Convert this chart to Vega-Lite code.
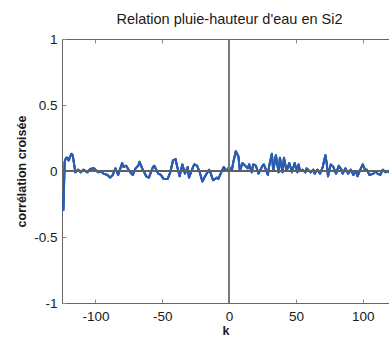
{
  "$schema": "https://vega.github.io/schema/vega-lite/v6.json",
  "width": 327,
  "height": 264,
  "autosize": {"type": "none"},
  "padding": {"left": 62, "top": 39, "right": 0, "bottom": 34},
  "background": "white",
  "config": {
    "view": {"stroke": null},
    "font": "Liberation Sans",
    "axis": {
      "grid": false,
      "domainColor": "#666666",
      "labelFont": "Liberation Sans",
      "labelFontSize": 13.5,
      "labelColor": "#1a1a1a",
      "titleFont": "Liberation Sans",
      "titleFontSize": 12.5,
      "titleFontWeight": "bold",
      "titleColor": "#1a1a1a"
    }
  },
  "title": {
    "text": "Relation pluie-hauteur d'eau en Si2",
    "font": "Liberation Sans",
    "fontSize": 14.5,
    "fontWeight": "normal",
    "color": "#1a1a1a",
    "offset": 5,
    "dx": 4
  },
  "data": {
    "values": [
      {"k": -124, "c": -0.3}, {"k": -123, "c": 0.07}, {"k": -122, "c": 0.1}, {"k": -121, "c": 0.1},
      {"k": -120, "c": 0.08}, {"k": -118, "c": 0.13}, {"k": -117, "c": 0.12}, {"k": -115, "c": -0.01},
      {"k": -113, "c": 0.01}, {"k": -111, "c": -0.01}, {"k": -109, "c": 0.01}, {"k": -106, "c": -0.01},
      {"k": -104, "c": 0.015}, {"k": -101, "c": 0.02}, {"k": -98, "c": -0.01}, {"k": -96, "c": 0},
      {"k": -94, "c": -0.02}, {"k": -91, "c": -0.03}, {"k": -89, "c": -0.05}, {"k": -87, "c": -0.03},
      {"k": -85, "c": 0.02}, {"k": -83, "c": -0.03}, {"k": -80, "c": 0.06}, {"k": -79, "c": 0.03},
      {"k": -77, "c": 0.04}, {"k": -74, "c": -0.01}, {"k": -72, "c": -0.03}, {"k": -70, "c": 0.02},
      {"k": -68, "c": 0.04}, {"k": -67, "c": 0.07}, {"k": -65, "c": 0.02}, {"k": -62, "c": -0.04},
      {"k": -60, "c": -0.05}, {"k": -57, "c": 0.03}, {"k": -56, "c": 0.04}, {"k": -53, "c": -0.02},
      {"k": -51, "c": -0.03}, {"k": -49, "c": -0.06}, {"k": -46, "c": -0.06}, {"k": -44, "c": -0.01},
      {"k": -42, "c": 0.08}, {"k": -40, "c": 0.09}, {"k": -39, "c": 0.04}, {"k": -37, "c": -0.04},
      {"k": -35, "c": 0.05}, {"k": -33, "c": -0.02}, {"k": -31, "c": 0.03}, {"k": -30, "c": -0.05},
      {"k": -27, "c": 0.03}, {"k": -26, "c": 0.05}, {"k": -24, "c": 0.04}, {"k": -22, "c": -0.01},
      {"k": -20, "c": -0.08}, {"k": -18, "c": -0.04}, {"k": -15, "c": 0.01}, {"k": -14, "c": -0.01},
      {"k": -12, "c": -0.07}, {"k": -9, "c": -0.05}, {"k": -8, "c": -0.06}, {"k": -5, "c": 0.01},
      {"k": -4, "c": 0.03}, {"k": -2, "c": 0}, {"k": 0, "c": 0.03}, {"k": 2, "c": 0},
      {"k": 3, "c": 0.06}, {"k": 5, "c": 0.15}, {"k": 7, "c": 0.11}, {"k": 8, "c": 0},
      {"k": 10, "c": 0.06}, {"k": 11, "c": 0.05}, {"k": 14, "c": 0.02}, {"k": 15, "c": 0.05},
      {"k": 17, "c": -0.01}, {"k": 18, "c": 0.05}, {"k": 20, "c": 0.04}, {"k": 22, "c": -0.02},
      {"k": 25, "c": 0.04}, {"k": 26, "c": 0.05}, {"k": 29, "c": -0.03}, {"k": 30, "c": 0.04},
      {"k": 32, "c": 0.13}, {"k": 33, "c": 0}, {"k": 35, "c": 0.12}, {"k": 37, "c": -0.01},
      {"k": 38, "c": 0.1}, {"k": 40, "c": -0.01}, {"k": 41, "c": 0.1}, {"k": 43, "c": 0},
      {"k": 45, "c": 0.06}, {"k": 47, "c": -0.01}, {"k": 49, "c": 0.06}, {"k": 51, "c": -0.01},
      {"k": 52, "c": 0.05}, {"k": 53, "c": 0}, {"k": 55, "c": 0.01}, {"k": 57, "c": -0.01},
      {"k": 58, "c": 0.02}, {"k": 61, "c": -0.01}, {"k": 63, "c": 0.01}, {"k": 64, "c": -0.02},
      {"k": 66, "c": 0.01}, {"k": 68, "c": -0.02}, {"k": 70, "c": 0.03}, {"k": 72, "c": 0.12},
      {"k": 73, "c": 0.06}, {"k": 74, "c": -0.04}, {"k": 76, "c": 0.05}, {"k": 78, "c": 0.03},
      {"k": 80, "c": -0.02}, {"k": 82, "c": 0.04}, {"k": 84, "c": 0.01}, {"k": 85, "c": -0.02},
      {"k": 87, "c": 0.02}, {"k": 89, "c": -0.02}, {"k": 91, "c": 0.01}, {"k": 93, "c": -0.03},
      {"k": 95, "c": 0}, {"k": 96, "c": -0.04}, {"k": 99, "c": 0.03}, {"k": 100, "c": 0.05},
      {"k": 102, "c": 0}, {"k": 103, "c": 0.01}, {"k": 105, "c": -0.03}, {"k": 108, "c": -0.02},
      {"k": 109, "c": 0}, {"k": 111, "c": -0.02}, {"k": 113, "c": -0.03}, {"k": 115, "c": 0.01},
      {"k": 117, "c": -0.01}, {"k": 118, "c": 0}, {"k": 120, "c": -0.01}, {"k": 122, "c": 0.01},
      {"k": 124, "c": 0}
    ]
  },
  "layer": [
    {
      "mark": {"type": "line", "color": "#2a5db0", "strokeWidth": 2, "clip": true, "strokeJoin": "round"},
      "encoding": {
        "x": {
          "field": "k", "type": "quantitative",
          "axis": {"orient": "top", "offset": -264, "labels": true, "labelOpacity": 0, "domain": false, "ticks": true, "tickSize": 4, "tickColor": "#8a8a8a", "tickWidth": 1, "title": null, "values": [-100, -50, 0, 50, 100]}
        },
        "y": {
          "field": "c", "type": "quantitative",
          "axis": {"orient": "right", "offset": -327, "labels": true, "labelOpacity": 0, "domain": false, "ticks": true, "tickSize": 4, "tickColor": "#8a8a8a", "tickWidth": 1, "title": null, "values": [-1, -0.5, 0, 0.5, 1]}
        }
      }
    },
    {
      "mark": {"type": "line", "color": "#2a5db0", "strokeWidth": 2, "clip": true, "strokeJoin": "round"},
      "encoding": {
        "x": {
          "field": "k",
          "type": "quantitative",
          "scale": {"domain": [-125, 119.6], "nice": false, "zero": false},
          "axis": {"orient": "bottom", "title": "k", "values": [-100, -50, 0, 50, 100], "ticks": false, "labelPadding": 6, "titlePadding": 2, "labelExpr": "toString(datum.value)"}
        },
        "y": {
          "field": "c",
          "type": "quantitative",
          "scale": {"domain": [-1, 1], "nice": false},
          "axis": {"orient": "left", "title": "corrélation croisée", "values": [-1, -0.5, 0, 0.5, 1], "ticks": false, "labelPadding": 5, "titlePadding": 5, "labelExpr": "toString(datum.value)"}
        }
      }
    },
    {
      "mark": {"type": "line", "color": "#2a5db0", "strokeWidth": 2, "clip": true, "strokeJoin": "round"},
      "encoding": {
        "x": {
          "field": "k", "type": "quantitative",
          "axis": {"orient": "bottom", "offset": -264, "labels": true, "labelOpacity": 0, "domain": true, "ticks": true, "tickSize": 4, "tickColor": "#8a8a8a", "tickWidth": 1, "title": null, "values": [-100, -50, 0, 50, 100]}
        },
        "y": {"field": "c", "type": "quantitative", "axis": null}
      }
    },
    {
      "mark": {"type": "rule", "color": "#7a7a7a", "strokeWidth": 1},
      "encoding": {
        "x": {"datum": 0, "type": "quantitative", "axis": null}
      }
    },
    {
      "mark": {"type": "rule", "color": "#606060", "strokeWidth": 1},
      "encoding": {
        "y": {"datum": 0, "type": "quantitative", "axis": null}
      }
    }
  ],
  "resolve": {"axis": {"x": "independent", "y": "independent"}}
}
